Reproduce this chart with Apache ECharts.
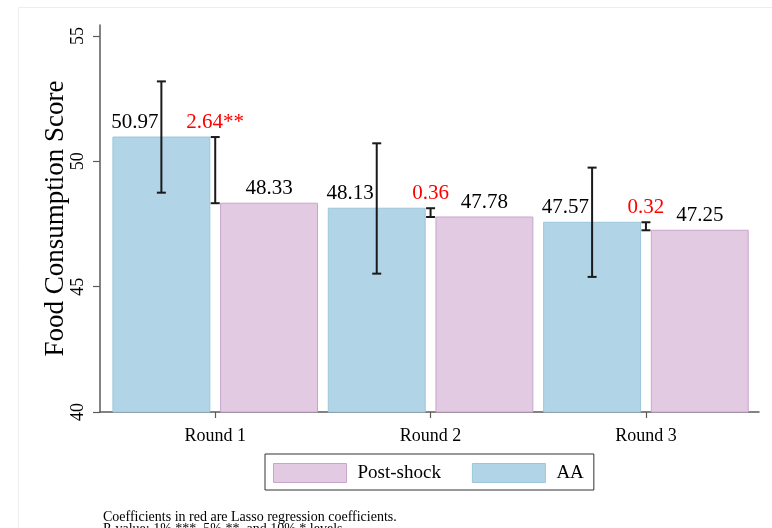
<!DOCTYPE html>
<html>
<head>
<meta charset="utf-8">
<script src="https://cdn.jsdelivr.net/npm/echarts@6/dist/echarts.min.js"></script>
<style>html,body{margin:0;padding:0;background:#fff;}#c{width:772px;height:528px;}</style>
</head>
<body>
<div id="c"></div>
<script>
const categories = ['Round 1', 'Round 2', 'Round 3'];
const aaValues = [50.97, 48.13, 47.57];
const postValues = [48.33, 47.78, 47.25];
const aaCiLow = [48.75, 45.52, 45.39];
const aaCiHigh = [53.19, 50.72, 49.75];
const coefLabels = ['2.64**', '0.36', '0.32'];
const yTicks = [40, 45, 50, 55];
const notes = ['Coefficients in red are Lasso regression coefficients.', 'P-value: 1% ***, 5% **, and 10% * levels.'];

const FONT = 'Liberation Serif';
const AA_FILL = '#b1d4e6', AA_BORDER = '#9cc6dc';
const PS_FILL = '#e1cae2', PS_BORDER = '#c8a6cb';
const OFF = 0.25, HALF = 0.225, BASE = 40;
const LABEL_SIZE = 21;

const positions = categories.map((c, i) => i + 1);

function barItem(api, xc, val, fill, border) {
  const tl = api.coord([xc - HALF, val]);
  const br = api.coord([xc + HALF, BASE]);
  const children = [{
    type: 'rect',
    shape: { x: tl[0], y: tl[1], width: br[0] - tl[0], height: br[1] - tl[1] },
    style: { fill: fill, stroke: border, lineWidth: 1 }
  }];
  return { children, top: tl[1] };
}

function errorBar(api, xc, lo, hi) {
  const a = api.coord([xc, hi]);
  const b = api.coord([xc, lo]);
  const cap = 4.5;
  const st = { stroke: '#1a1a1a', lineWidth: 2 };
  return [
    { type: 'line', shape: { x1: a[0], y1: a[1], x2: b[0], y2: b[1] }, style: st },
    { type: 'line', shape: { x1: a[0] - cap, y1: a[1], x2: a[0] + cap, y2: a[1] }, style: st },
    { type: 'line', shape: { x1: b[0] - cap, y1: b[1], x2: b[0] + cap, y2: b[1] }, style: st }
  ];
}

const chart = echarts.init(document.getElementById('c'), null, { renderer: 'canvas' });

const option = {
  backgroundColor: '#fff',
  animation: false,
  grid: { left: 100, right: 13, top: 25, bottom: 116 },
  xAxis: {
    type: 'value',
    min: 0.465,
    max: 3.525,
    splitLine: { show: false },
    axisLine: { show: true, onZero: false, lineStyle: { color: '#5a5a5a', width: 1.5 } },
    axisTick: { show: true, length: 6, customValues: positions, lineStyle: { color: '#5a5a5a', width: 1.2 } },
    axisLabel: {
      customValues: positions,
      margin: 15,
      fontFamily: FONT, fontSize: 18, color: '#000',
      formatter: v => categories[Math.round(v) - 1]
    }
  },
  yAxis: {
    type: 'value',
    min: 40,
    max: 55.44,
    name: 'Food Consumption Score',
    nameLocation: 'middle',
    nameGap: 31,
    nameMoveOverlap: false,
    nameTextStyle: { fontFamily: FONT, fontSize: 27, color: '#000' },
    splitLine: { show: false },
    axisLine: { show: true, onZero: false, lineStyle: { color: '#5a5a5a', width: 1.5 } },
    axisTick: { show: true, length: 7, customValues: yTicks, lineStyle: { color: '#5a5a5a', width: 1.2 } },
    axisLabel: {
      customValues: yTicks,
      rotate: 90,
      margin: 13,
      fontFamily: FONT, fontSize: 18, color: '#000'
    }
  },
  legend: {
    left: 265,
    top: 454,
    orient: 'horizontal',
    padding: [9, 10, 7, 8],
    borderColor: '#333',
    borderWidth: 1,
    itemGap: 31,
    itemWidth: 73,
    itemHeight: 19,
    selectedMode: false,
    textStyle: { fontFamily: FONT, fontSize: 19, color: '#000', padding: [0, 0, 0, 6], lineHeight: 19 },
    data: [
      { name: 'Post-shock', icon: 'rect', itemStyle: { color: PS_FILL, borderColor: PS_BORDER, borderWidth: 1 } },
      { name: 'AA', icon: 'rect', itemStyle: { color: AA_FILL, borderColor: AA_BORDER, borderWidth: 1 } }
    ]
  },
  graphic: [
    { type: 'rect', left: 16, top: 5, shape: { x: 0, y: 0, width: 800, height: 600 }, style: { fill: null, stroke: '#ededed', lineWidth: 1 }, silent: true, z: -10 },
    { type: 'text', left: 103, top: 510, style: { text: notes.join('\n'), fontFamily: FONT, fontSize: 14, lineHeight: 12, fill: '#000' } }
  ],
  series: [
    {
      name: 'AA',
      type: 'custom',
      itemStyle: { color: AA_FILL, borderColor: AA_BORDER },
      data: positions.map((p, i) => [p, aaValues[i], aaCiLow[i], aaCiHigh[i]]),
      renderItem: function (params, api) {
        const xc = api.value(0) - OFF;
        const val = api.value(1);
        const bar = barItem(api, xc, val, AA_FILL, AA_BORDER);
        const c = api.coord([xc, val]);
        const children = bar.children.concat(errorBar(api, xc, api.value(2), api.value(3)));
        children.push({
          type: 'text',
          style: { text: val.toFixed(2), x: c[0] - 3, y: bar.top - 4, align: 'right', verticalAlign: 'bottom', fontFamily: FONT, fontSize: LABEL_SIZE, fill: '#000' }
        });
        return { type: 'group', children };
      }
    },
    {
      name: 'Post-shock',
      type: 'custom',
      itemStyle: { color: PS_FILL, borderColor: PS_BORDER },
      data: positions.map((p, i) => [p, postValues[i]]),
      renderItem: function (params, api) {
        const xc = api.value(0) + OFF;
        const val = api.value(1);
        const bar = barItem(api, xc, val, PS_FILL, PS_BORDER);
        const c = api.coord([xc, val]);
        const children = bar.children.slice();
        children.push({
          type: 'text',
          style: { text: val.toFixed(2), x: c[0], y: bar.top - 4, align: 'center', verticalAlign: 'bottom', fontFamily: FONT, fontSize: LABEL_SIZE, fill: '#000' }
        });
        return { type: 'group', children };
      }
    },
    {
      name: 'Coefficient',
      type: 'custom',
      z: 5,
      data: positions.map((p, i) => [p, postValues[i], aaValues[i], i]),
      renderItem: function (params, api) {
        const xc = api.value(0);
        const lo = api.value(1), hi = api.value(2);
        const idx = api.value(3);
        const children = errorBar(api, xc, lo, hi);
        const t = api.coord([xc, hi]);
        children.push({
          type: 'text',
          style: { text: coefLabels[idx], x: t[0], y: t[1] - 4, align: 'center', verticalAlign: 'bottom', fontFamily: FONT, fontSize: LABEL_SIZE, fill: '#ff0000' }
        });
        return { type: 'group', children };
      }
    }
  ]
};
chart.setOption(option);
</script>
</body>
</html>
